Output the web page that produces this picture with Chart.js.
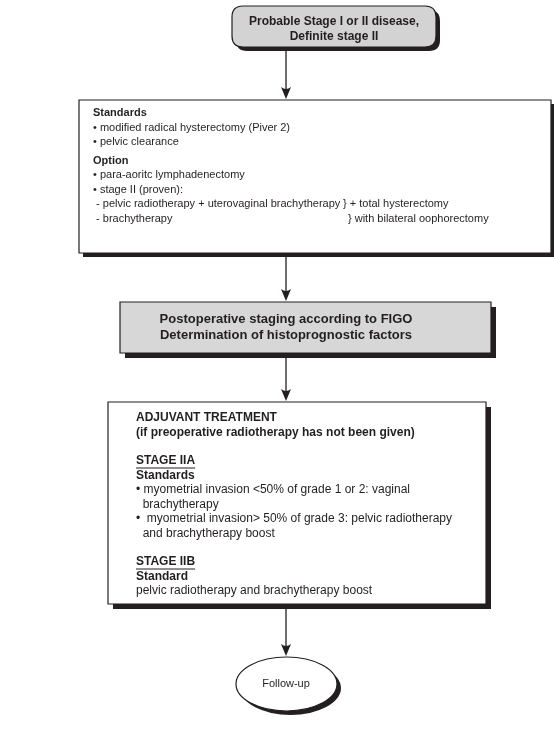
<!DOCTYPE html>
<html>
<head>
<meta charset="utf-8">
<script src="https://cdn.jsdelivr.net/npm/chart.js@4.4.1/dist/chart.umd.min.js"></script>
<style>
  html, body { margin: 0; padding: 0; background: #fff; }
  #wrap { width: 554px; height: 730px; }
</style>
</head>
<body>
<div id="wrap"><canvas id="chart" width="554" height="730"></canvas></div>
<script>
// text of each step in the flow, top to bottom
let startLines = ['Probable Stage I or II disease,', 'Definite stage II'];
let surgeryLines = [
  'Standards',
  '\u2022 modified radical hysterectomy (Piver 2)',
  '\u2022 pelvic clearance',
  '',
  'Option',
  '\u2022 para-aoritc lymphadenectomy',
  '\u2022 stage II (proven):',
  ' - pelvic radiotherapy + uterovaginal brachytherapy\t} + total hysterectomy',
  ' - brachytherapy\t\t} with bilateral oophorectomy'
];
let stagingLines = ['Postoperative staging according to FIGO', 'Determination of histoprognostic factors'];
let adjuvantLines = [
  'ADJUVANT TREATMENT',
  '(if preoperative radiotherapy has not been given)',
  '',
  'STAGE IIA',
  'Standards',
  '\u2022 myometrial invasion <50% of grade 1 or 2: vaginal',
  '  brachytherapy',
  '\u2022  myometrial invasion> 50% of grade 3: pelvic radiotherapy',
  '  and brachytherapy boost',
  '',
  'STAGE IIB',
  'Standard',
  'pelvic radiotherapy and brachytherapy boost'
];
let endLines = ['Follow-up'];

// which lines are headings
let boldLines = ['Standards', 'Option', 'ADJUVANT TREATMENT', '(if preoperative radiotherapy has not been given)',
  'STAGE IIA', 'STAGE IIB', 'Standard'];
let underlinedLines = ['STAGE IIA', 'STAGE IIB'];

// layout of the boxes (pixel units of the hidden scales)
let boxes = [
  { lines: startLines, shape: 'round', x0: 232, x1: 436, y0: 6, y1: 47, fill: '#d3d3d3', shadow: 4,
    align: 'center', tx: 334, ty: 22, lh: 15, gap: 0, allBold: true, fs: 12 },
  { lines: surgeryLines, shape: 'rect', x0: 79, x1: 551, y0: 100, y1: 253, fill: '#ffffff', shadow: 4,
    align: 'left', tx: 93, ty: 113, lh: 14.5, gap: 4, tabs: [343, 348], fs: 11 },
  { lines: stagingLines, shape: 'rect', x0: 120, x1: 491, y0: 302, y1: 353, fill: '#d7d7d7', shadow: 5,
    align: 'center', tx: 286, ty: 319, lh: 16, gap: 0, allBold: true, fs: 13 },
  { lines: adjuvantLines, shape: 'rect', x0: 108, x1: 486, y0: 402, y1: 604, fill: '#ffffff', shadow: 5,
    align: 'left', tx: 136, ty: 418, lh: 14.5, gap: 14, allBold: false, fs: 12 },
  { lines: endLines, shape: 'ellipse', x0: 236, x1: 337, y0: 657, y1: 711, fill: '#ffffff', shadow: 4,
    align: 'center', tx: 286, ty: 684, lh: 14, gap: 0, fs: 11 }
];
let arrowX = 286;

let ink = '#231f20';

function roundRect(ctx, x, y, w, h, r) {
  ctx.beginPath();
  ctx.moveTo(x + r, y);
  ctx.lineTo(x + w - r, y);
  ctx.quadraticCurveTo(x + w, y, x + w, y + r);
  ctx.lineTo(x + w, y + h - r);
  ctx.quadraticCurveTo(x + w, y + h, x + w - r, y + h);
  ctx.lineTo(x + r, y + h);
  ctx.quadraticCurveTo(x, y + h, x, y + h - r);
  ctx.lineTo(x, y + r);
  ctx.quadraticCurveTo(x, y, x + r, y);
  ctx.closePath();
}

function shapePath(ctx, b, x0, y0, x1, y1) {
  if (b.shape === 'round') {
    roundRect(ctx, x0, y0, x1 - x0, y1 - y0, 11);
  } else if (b.shape === 'ellipse') {
    ctx.beginPath();
    ctx.ellipse((x0 + x1) / 2, (y0 + y1) / 2, (x1 - x0) / 2, (y1 - y0) / 2, 0, 0, Math.PI * 2);
    ctx.closePath();
  } else {
    ctx.beginPath();
    ctx.rect(x0, y0, x1 - x0, y1 - y0);
  }
}

let flowPlugin = {
  id: 'flow',
  afterDraw: chart => {
    let ctx = chart.ctx;
    let sx = chart.scales.x, sy = chart.scales.y;
    let px = v => sx.getPixelForValue(v);
    let py = v => sy.getPixelForValue(v);

    ctx.save();

    // arrows between consecutive boxes
    for (let i = 0; i < boxes.length - 1; i++) {
      let top = py(boxes[i].y1 + boxes[i].shadow);
      let tip = py(boxes[i + 1].y0 - 1);
      let x = px(arrowX);
      ctx.strokeStyle = ink;
      ctx.lineWidth = 1.3;
      ctx.beginPath();
      ctx.moveTo(x, top);
      ctx.lineTo(x, tip - 8);
      ctx.stroke();
      ctx.fillStyle = ink;
      ctx.beginPath();
      ctx.moveTo(x - 5, tip - 12);
      ctx.quadraticCurveTo(x, tip - 8, x + 5, tip - 12);
      ctx.lineTo(x, tip);
      ctx.closePath();
      ctx.fill();
    }

    boxes.forEach(b => {
      let x0 = px(b.x0), x1 = px(b.x1), y0 = py(b.y0), y1 = py(b.y1);
      // drop shadow
      ctx.fillStyle = ink;
      shapePath(ctx, b, x0 + b.shadow, y0 + b.shadow, x1 + b.shadow, y1 + b.shadow);
      ctx.fill();
      // box
      ctx.fillStyle = b.fill;
      shapePath(ctx, b, x0, y0, x1, y1);
      ctx.fill();
      ctx.strokeStyle = ink;
      ctx.lineWidth = 1.2;
      ctx.stroke();

      // text
      let y = b.ty;
      ctx.fillStyle = ink;
      ctx.textBaseline = 'middle';
      b.lines.forEach(line => {
        if (line === '') {
          y += b.gap;
          return;
        }
        let bold = b.allBold || boldLines.includes(line);
        ctx.font = (bold ? 'bold ' : '') + b.fs + 'px "Liberation Sans", Arial, sans-serif';
        ctx.textAlign = b.align;
        let parts = line.split('\t');
        ctx.fillText(parts[0], px(b.tx), py(y));
        let rest = parts[parts.length - 1];
        if (parts.length > 1) {
          ctx.textAlign = 'left';
          ctx.fillText(rest, px(b.tabs[parts.length - 2]), py(y));
        }
        if (underlinedLines.includes(line)) {
          let w = ctx.measureText(line).width;
          ctx.lineWidth = 1;
          ctx.beginPath();
          ctx.moveTo(px(b.tx), py(y) + 7);
          ctx.lineTo(px(b.tx) + w, py(y) + 7);
          ctx.stroke();
        }
        y += b.lh;
      });
    });

    ctx.restore();
  }
};

let chart = new Chart(document.getElementById('chart').getContext('2d'), {
  type: 'scatter',
  data: { datasets: [{ data: [], showLine: false, pointRadius: 0 }] },
  options: {
    responsive: false,
    animation: false,
    devicePixelRatio: 1,
    layout: { padding: 0 },
    plugins: { legend: { display: false }, tooltip: { enabled: false } },
    scales: {
      x: { type: 'linear', min: 0, max: 554, display: false },
      y: { type: 'linear', min: 0, max: 730, reverse: true, display: false }
    }
  },
  plugins: [flowPlugin]
});
</script>
</body>
</html>
